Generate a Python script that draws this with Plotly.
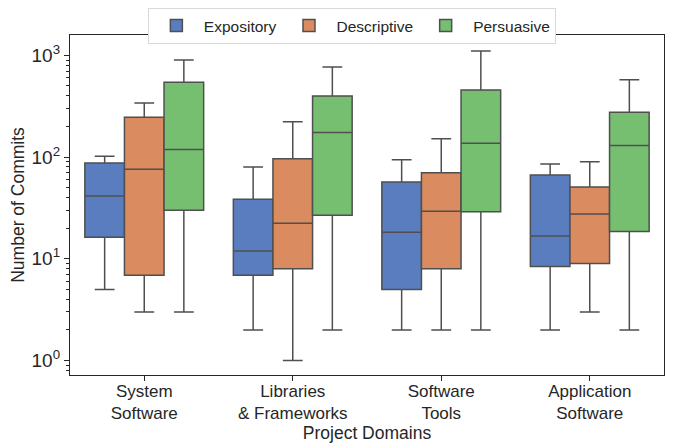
import plotly.graph_objects as go

categories = ["System<br>Software", "Libraries<br>& Frameworks", "Software<br>Tools", "Application<br>Software"]
series_names = ["Expository", "Descriptive", "Persuasive"]

# box statistics per series, one value per category
lower = {
    "Expository": [5.0, 2.0, 2.0, 2.0],
    "Descriptive": [3.0, 1.0, 2.0, 3.0],
    "Persuasive": [3.0, 2.0, 2.0, 2.0],
}
q1 = {
    "Expository": [16.3, 6.9, 5.0, 8.4],
    "Descriptive": [6.9, 8.0, 8.0, 9.0],
    "Persuasive": [30.0, 26.8, 29.0, 18.5],
}
median = {
    "Expository": [41.4, 11.9, 18.2, 16.7],
    "Descriptive": [76.0, 22.3, 29.3, 27.6],
    "Persuasive": [119.0, 174.0, 137.0, 130.0],
}
q3 = {
    "Expository": [87.5, 38.5, 57.0, 66.7],
    "Descriptive": [246.0, 96.0, 70.0, 50.8],
    "Persuasive": [544.0, 399.0, 457.0, 276.0],
}
upper = {
    "Expository": [102.0, 80.0, 94.0, 85.5],
    "Descriptive": [340.0, 223.0, 151.0, 90.0],
    "Persuasive": [901.0, 769.0, 1105.0, 577.0],
}
colors = {"Expository": "#597dbf", "Descriptive": "#da8b5f", "Persuasive": "#76bf71"}

ytick_vals = [1, 10, 100, 1000]
ytick_text = ["10<sup>0</sup>", "10<sup>1</sup>", "10<sup>2</sup>", "10<sup>3</sup>"]

fig = go.Figure()
for name in series_names:
    fig.add_trace(go.Box(
        name=name,
        x=categories,
        q1=q1[name], median=median[name], q3=q3[name],
        lowerfence=lower[name], upperfence=upper[name],
        fillcolor=colors[name],
        line=dict(color="#4f4f4f", width=1.5),
        whiskerwidth=0.5,
        offsetgroup=name,
        boxpoints=False,
    ))

fig.update_layout(
    width=669, height=436,
    margin=dict(l=62, r=13, t=27, b=69, autoexpand=False),
    boxmode="group", boxgap=0.2, boxgroupgap=0.0,
    plot_bgcolor="white", paper_bgcolor="white",
    font=dict(family="Liberation Sans, Arial, sans-serif", size=16, color="#262626"),
    legend=dict(
        orientation="h", xref="container", yref="container",
        x=0.514, xanchor="center", y=1.0, yanchor="top",
        bordercolor="#d9d9d9", borderwidth=1, font=dict(size=15.5),
        itemwidth=45, tracegroupgap=0,
    ),
    xaxis=dict(
        title=dict(text="Project Domains", font=dict(size=17.5), standoff=0),
        showline=True, linecolor="#262626", linewidth=1.3, mirror=True,
        ticks="outside", ticklen=5, tickcolor="#262626",
        tickfont=dict(size=17), ticklabelstandoff=-5,
    ),
    yaxis=dict(
        type="log", range=[-0.1426, 3.2],
        title=dict(text="Number of Commits", font=dict(size=17.5), standoff=6),
        showline=True, linecolor="#262626", linewidth=1.3, mirror=True,
        ticks="outside", ticklen=5, tickcolor="#262626",
        tickmode="array", tickvals=ytick_vals, ticktext=ytick_text,
        tickfont=dict(size=19),
        showgrid=False, zeroline=False,
        minor=dict(ticks="outside", ticklen=3, tickcolor="#262626",
                   dtick="D1", showgrid=False),
    ),
)

fig.write_html("out.html")
